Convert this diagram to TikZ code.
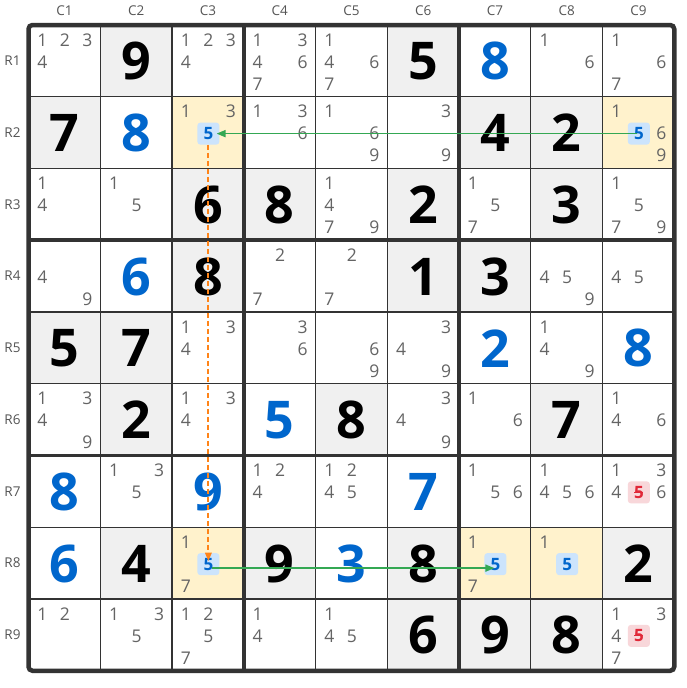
\documentclass[tikz,border=0pt]{standalone}
\usepackage{fontspec}
\setmainfont{Open Sans}
\usetikzlibrary{arrows.meta,calc}
\definecolor{givenbg}{HTML}{F0F0F0}
\definecolor{yelbg}{HTML}{FFF2CC}
\definecolor{gridc}{HTML}{333333}
\definecolor{candc}{HTML}{646464}
\definecolor{solvc}{HTML}{0066CC}
\definecolor{hlfill}{HTML}{CCE4FC}
\definecolor{rdfill}{HTML}{F8D7DA}
\definecolor{rdtext}{HTML}{E02838}
\definecolor{grarrow}{HTML}{34A853}
\definecolor{orarrow}{HTML}{FF8418}
\definecolor{labc}{HTML}{555555}
\tikzset{
  given/.style={inner sep=0pt,font=\fontsize{52}{52}\selectfont\bfseries,text=black},
  solved/.style={inner sep=0pt,font=\fontsize{52}{52}\selectfont\bfseries,text=solvc},
  cand/.style={inner sep=0pt,font=\fontsize{17.5}{17.5}\selectfont,text=candc},
  hlbox/.style={inner sep=0pt,minimum width=22pt,minimum height=22pt,rounded corners=3pt,fill=hlfill,text=solvc,font=\fontsize{17}{17}\selectfont\bfseries},
  rdbox/.style={inner sep=0pt,minimum width=22pt,minimum height=22pt,rounded corners=3pt,fill=rdfill,text=rdtext,font=\fontsize{17}{17}\selectfont\bfseries},
  lab/.style={inner sep=0pt,font=\fontsize{13.5}{13.5}\selectfont,text=labc},
  thinline/.style={draw=gridc,line width=1.3pt},
  thickline/.style={draw=gridc,line width=3.6pt},
  grline/.style={draw=grarrow,line width=1.7pt,-{Triangle[length=9pt,width=7pt]}},
  orline/.style={draw=orarrow,line width=1.8pt,dash pattern=on 5pt off 3pt,-{Triangle[length=8.5pt,width=6.5pt]}},
  strikeln/.style={draw=rdtext,line width=1.2pt}
}
\begin{document}
\begin{tikzpicture}[x=1pt,y=-1pt]
\useasboundingbox (0,0) rectangle (687,688);
\fill[white] (0,0) rectangle (687,688);
% backgrounds
\foreach \r/\c in {1/2,1/6,2/1,2/7,2/8,3/3,3/4,3/6,3/8,4/3,4/6,4/7,5/1,5/2,6/2,6/5,6/8,8/2,8/4,8/6,8/9,9/6,9/7,9/8}
  \fill[givenbg] ({28.5+71.75*(\c-1)},{25+71.75*(\r-1)}) rectangle ++(71.75,71.75);
\foreach \r/\c in {2/3,2/9,8/3,8/7,8/8}
  \fill[yelbg] ({28.5+71.75*(\c-1)},{25+71.75*(\r-1)}) rectangle ++(71.75,71.75);
% grid
\foreach \k in {1,2,4,5,7,8} {
  \draw[thinline] ({28.5+71.75*\k},25) -- ({28.5+71.75*\k},670.75);
  \draw[thinline] (28.5,{25+71.75*\k}) -- (674.25,{25+71.75*\k});
}
\foreach \k in {3,6} {
  \draw[thickline] ({28.5+71.75*\k},25) -- ({28.5+71.75*\k},670.75);
  \draw[thickline] (28.5,{25+71.75*\k}) -- (674.25,{25+71.75*\k});
}
\draw[draw=gridc,line width=4.5pt,rounded corners=4pt] (28.5,25) rectangle (674.25,670.75);
% labels
\foreach \c in {1,...,9}
  \node[lab] (cl\c) at ({28.5+71.75*(\c-0.5)},11) {C\c};
\foreach \r in {1,...,9}
  \node[lab] (rl\r) at (12.5,{25+71.75*(\r-0.5)}) {R\r};
% given digits
\foreach \r/\c/\d in {1/2/9,1/6/5,2/1/7,2/7/4,2/8/2,3/3/6,3/4/8,3/6/2,3/8/3,4/3/8,4/6/1,4/7/3,5/1/5,5/2/7,6/2/2,6/5/8,6/8/7,8/2/4,8/4/9,8/6/8,8/9/2,9/6/6,9/7/9,9/8/8}
  \node[given] (g\r\c) at ({28.5+71.75*(\c-0.5)},{25+71.75*(\r-0.5)+0.5}) {\d};
% solved digits
\foreach \r/\c/\d in {1/7/8,2/2/8,4/2/6,5/7/2,5/9/8,6/4/5,7/1/8,7/3/9,7/6/7,8/1/6,8/5/3}
  \node[solved] (s\r\c) at ({28.5+71.75*(\c-0.5)},{25+71.75*(\r-0.5)+0.5}) {\d};
% candidates
\foreach \r/\c/\ds in {1/1/{1,2,3,4},1/3/{1,2,3,4},1/4/{1,3,4,6,7},1/5/{1,4,6,7},1/8/{1,6},1/9/{1,6,7},
  2/3/{1,3},2/4/{1,3,6},2/5/{1,6,9},2/6/{3,9},2/9/{1,6,9},
  3/1/{1,4},3/2/{1,5},3/5/{1,4,7,9},3/7/{1,5,7},3/9/{1,5,7,9},
  4/1/{4,9},4/4/{2,7},4/5/{2,7},4/8/{4,5,9},4/9/{4,5},
  5/3/{1,3,4},5/4/{3,6},5/5/{6,9},5/6/{3,4,9},5/8/{1,4,9},
  6/1/{1,3,4,9},6/3/{1,3,4},6/6/{3,4,9},6/7/{1,6},6/9/{1,4,6},
  7/2/{1,3,5},7/4/{1,2,4},7/5/{1,2,4,5},7/7/{1,5,6},7/8/{1,4,5,6},7/9/{1,3,4,6},
  8/3/{1,7},8/7/{1,7},8/8/{1},
  9/1/{1,2},9/2/{1,3,5},9/3/{1,2,5,7},9/4/{1,4},9/5/{1,4,5},9/9/{1,3,4,7}} {
  \foreach \d in \ds {
    \pgfmathtruncatemacro\ci{mod(\d-1,3)}
    \pgfmathtruncatemacro\ri{(\d-1)/3}
    \node[cand] (k\r\c\d) at ({28.5+71.75*(\c-0.5)-22+22.5*\ci},{25+71.75*(\r-0.5)-21+22*\ri}) {\d};
  }
}
% highlighted candidates
\foreach \r/\c in {2/3,2/9,8/3,8/7,8/8}
  \node[hlbox] (h\r\c) at ({28.5+71.75*(\c-0.5)+0.5},{25+71.75*(\r-0.5)+1}) {5};
\foreach \r/\c in {7/9,9/9}
  \node[rdbox] (x\r\c) at ({28.5+71.75*(\c-0.5)+0.5},{25+71.75*(\r-0.5)+1}) {5};
\foreach \r/\c in {7/9,9/9}
  \draw[strikeln] ($(x\r\c.center)+(-4.5,0)$) -- ($(x\r\c.center)+(4.5,0)$);
% connectors
\draw[grline] ($(h29.center)+(-2,0)$) -- ($(h23.east)+(-3,0)$);
\draw[orline] (h23.south) -- ($(h83.center)+(0,-3)$);
\draw[grline] ($(h83.center)+(4,4)$) -- ($(h87.center)+(-1,4)$);
\end{tikzpicture}
\end{document}
